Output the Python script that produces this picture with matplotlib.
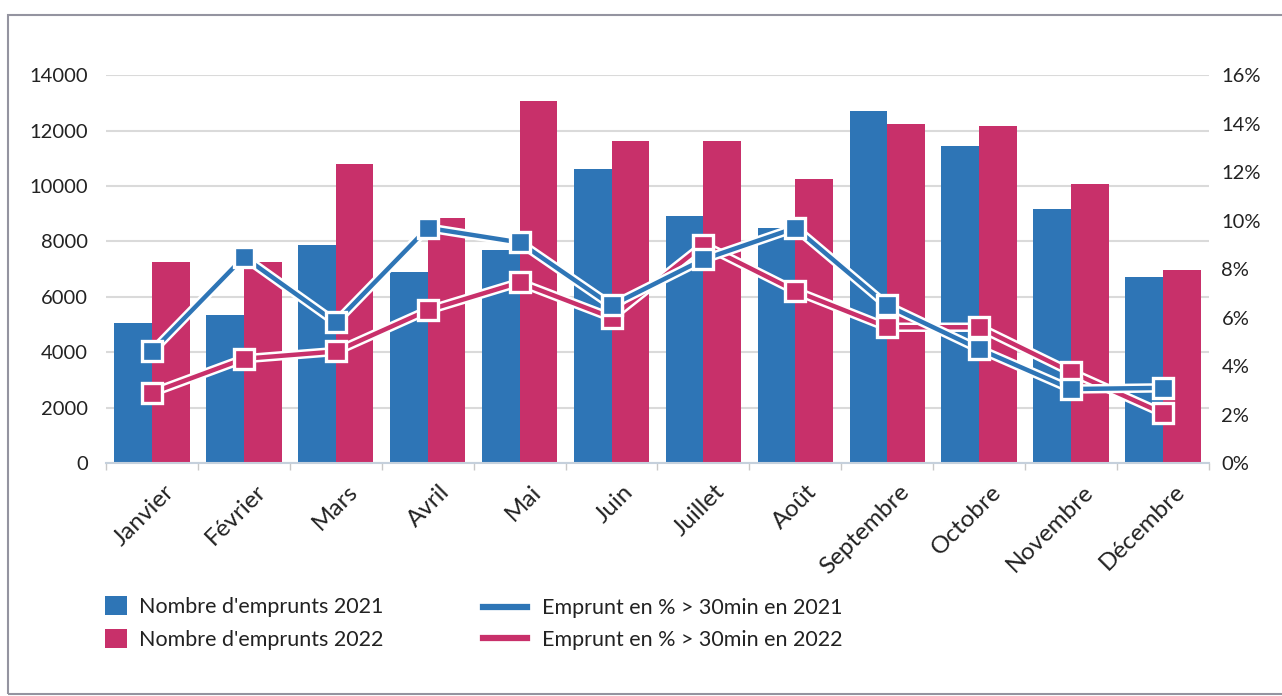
import matplotlib
matplotlib.use('Agg')
import matplotlib.pyplot as plt
import matplotlib.patheffects as pe
import matplotlib.transforms as mtransforms
from matplotlib.lines import Line2D
from matplotlib.patches import Patch, Rectangle
from matplotlib.ticker import FixedLocator, PercentFormatter
import numpy as np

plt.rcParams['font.family'] = ['Lato', 'DejaVu Sans']

MONTHS = ['Janvier', 'Février', 'Mars', 'Avril', 'Mai', 'Juin', 'Juillet',
          'Août', 'Septembre', 'Octobre', 'Novembre', 'Décembre']

emprunts_2021 = [5050, 5350, 7870, 6900, 7690, 10610,
                 8920, 8480, 12720, 11440, 9170, 6710]
emprunts_2022 = [7250, 7250, 10790, 8840, 13070, 11620,
                 11620, 10250, 12240, 12170, 10070, 6970]

pct_2021 = [4.6, 8.5, 5.8, 9.7, 9.1, 6.5, 8.4, 9.7, 6.5, 4.7, 3.05, 3.1]
pct_2022 = [2.9, 4.3, 4.6, 6.3, 7.45, 6.0, 9.0, 7.1, 5.6, 5.6, 3.75, 2.05]

BLUE = '#2E75B6'
RED = '#C8306A'
GRID = '#DADADA'
TEXT = '#222222'

fig = plt.figure(figsize=(12.82, 6.96), dpi=100)
ax = fig.add_axes([0.0827, 0.3348, 0.8603, 0.5572])
ax2 = ax.twinx()

# outer chart border
fig.patches.append(Rectangle((8 / 1282, 2 / 696), 1.0, 679 / 696,
                             transform=fig.transFigure, fill=False,
                             edgecolor='#9494A0', linewidth=1.5))

x = np.arange(len(MONTHS))
width = 0.41
ax.bar(x - width / 2, emprunts_2021, width, color=BLUE, zorder=2)
ax.bar(x + width / 2, emprunts_2022, width, color=RED, zorder=2)

ax.set_xlim(-0.5, len(MONTHS) - 0.5)
ax.set_ylim(0, 14000)
ax.set_yticks(np.arange(0, 14001, 2000))
ax.yaxis.grid(True, color=GRID, linewidth=1.5, zorder=0)
ax.set_axisbelow(True)
for side in ['top', 'left', 'right']:
    ax.spines[side].set_visible(False)
ax.spines['bottom'].set_color('#C5D0DC')
ax.spines['bottom'].set_linewidth(1.5)

# month names, rotated and pushed right so they end just past the group centre
ax.set_xticks(x)
ax.set_xticklabels([])
label_tf = (ax.get_xaxis_transform()
            + mtransforms.ScaledTranslation(11 / 100, -18 / 100, fig.dpi_scale_trans))
for i, month in enumerate(MONTHS):
    ax.text(i, 0, month, transform=label_tf, rotation=45, ha='right',
            va='top', rotation_mode='anchor', fontsize=17.5, color=TEXT)
ax.xaxis.set_minor_locator(FixedLocator(np.arange(-0.5, len(MONTHS), 1.0)))
ax.tick_params(axis='x', which='major', length=0)
ax.tick_params(axis='x', which='minor', length=5, color='#C8C8C8', width=1)
ax.tick_params(axis='y', length=0, pad=13, labelsize=14.5, labelcolor=TEXT)

ax2.set_ylim(0, 16)
ax2.set_yticks(np.arange(0, 16.1, 2))
ax2.yaxis.set_major_formatter(PercentFormatter(decimals=0))
ax2.tick_params(axis='y', length=0, pad=9, labelsize=14.5, labelcolor=TEXT)
for side in ['top', 'left', 'right', 'bottom']:
    ax2.spines[side].set_visible(False)

# percentage lines: white-edged line first, then the square markers
outline = [pe.Stroke(linewidth=6.8, foreground='white'), pe.Normal()]
for values, color in [(pct_2022, RED), (pct_2021, BLUE)]:
    ax2.plot(x, values, color=color, linewidth=3.2,
             path_effects=outline, zorder=3)
    ax2.plot(x, values, linestyle='none', marker='s', markersize=14.5,
             markerfacecolor=color, markeredgecolor='white',
             markeredgewidth=2.4, zorder=4)

bar_leg = fig.legend(
    [Patch(facecolor=BLUE, edgecolor='none'), Patch(facecolor=RED, edgecolor='none')],
    ["Nombre d'emprunts 2021", "Nombre d'emprunts 2022"],
    loc='center left', bbox_to_anchor=(105 / 1282, 1 - 623 / 696),
    frameon=False, fontsize=15.5, labelcolor=TEXT, handlelength=1.0,
    handleheight=1.0, handletextpad=0.6, labelspacing=0.55,
    borderpad=0, borderaxespad=0)
line_leg = fig.legend(
    [Line2D([0], [0], color=BLUE, linewidth=4.5), Line2D([0], [0], color=RED, linewidth=4.5)],
    ['Emprunt en % > 30min en 2021', 'Emprunt en % > 30min en 2022'],
    loc='center left', bbox_to_anchor=(483 / 1282, 1 - 624 / 696),
    frameon=False, fontsize=15.5, labelcolor=TEXT, handlelength=2.05,
    handletextpad=0.7, labelspacing=0.55, borderpad=0, borderaxespad=0)

fig.savefig('out.png', dpi=100)
